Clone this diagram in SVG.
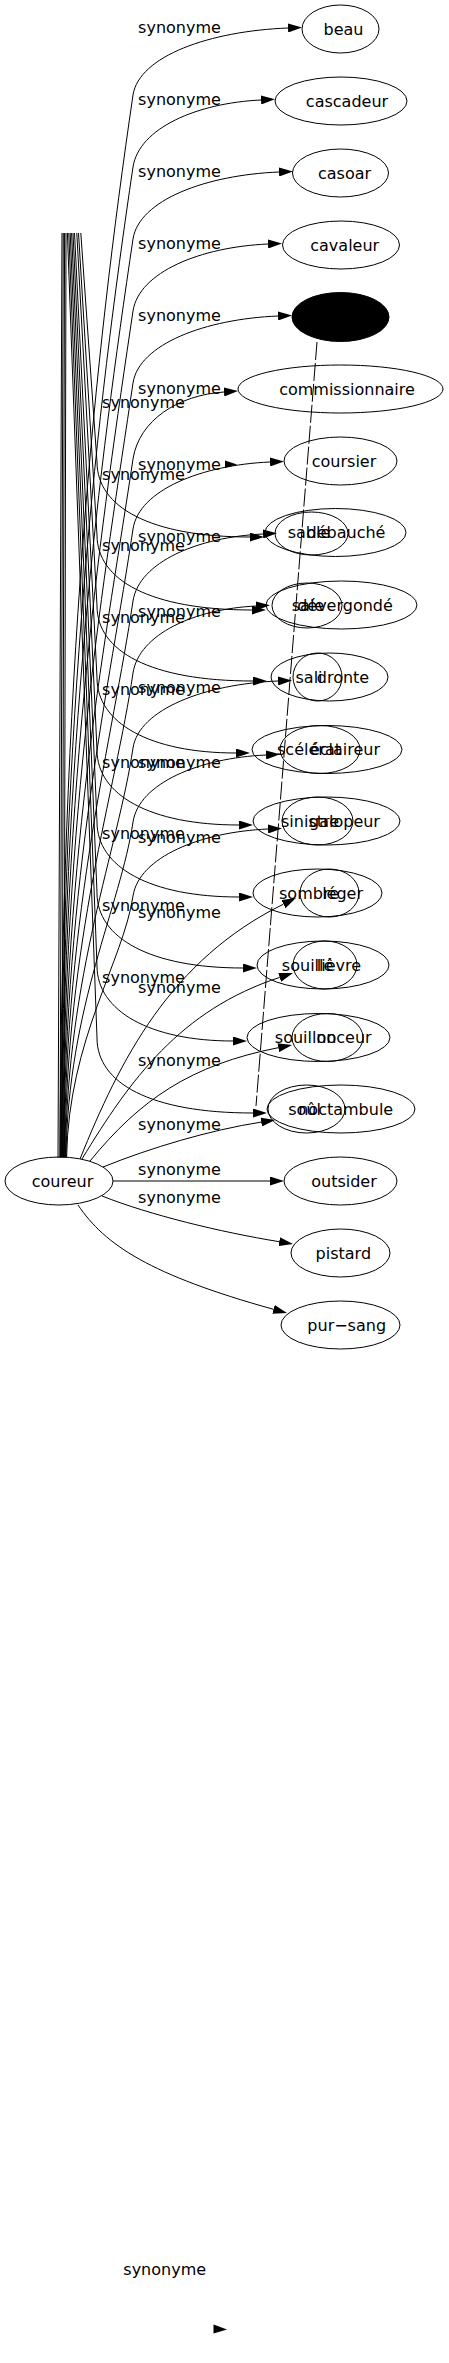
<svg xmlns="http://www.w3.org/2000/svg" width="449" height="2363" viewBox="0 0 449 2363">
<style>
text{font-family:"DejaVu Sans","Liberation Sans",sans-serif;font-size:16px;fill:#000;text-anchor:middle}
.node ellipse{fill:none;stroke:#000;stroke-width:1}
#edges path{fill:none;stroke:#000;stroke-width:1}
#edges path.a{marker-end:url(#ah)}
#edges path.d{stroke-dasharray:18,3}
</style>
<defs>
<marker id="ah" markerWidth="14" markerHeight="9" refX="0" refY="4.5" orient="auto" markerUnits="userSpaceOnUse" viewBox="0 0 14 9"><path d="M0,0 L14,4.5 L0,9 z" fill="#000"/></marker>
</defs>
<rect width="449" height="2363" fill="#fff"/>
<g id="edges">
<path d="M62,233 L58,1158"/>
<path d="M63.3,233 L60,1158"/>
<path d="M64.6,233 L62,1158"/>
<path d="M66,233 L64,1158"/>
<path class="a" d="M60,1157 C62,679 94,361 133,95 C139,56 210,31 288,28"/>
<text x="179.5" y="33">synonyme</text>
<path class="a" d="M60.6,1157 C62.6,711.5 96.4,414.5 133,167 C139,128 197,103 261,100"/>
<text x="179.5" y="105">synonyme</text>
<path class="a" d="M61.2,1157 C63.2,744 99,468.5 133,239 C139,200 206,175 279,172"/>
<text x="179.5" y="177">synonyme</text>
<path class="a" d="M61.8,1157 C63.8,776 101.7,522.5 133,311 C139,272 200.5,247 268,244"/>
<text x="179.5" y="249">synonyme</text>
<path class="a" d="M62.4,1157 C64.4,808.7 104.4,576.5 133,383 C139,344 205.5,319 278,316"/>
<text x="179.5" y="321">synonyme</text>
<path class="a" d="M63,1157 C65,843 107.2,633.5 133,459 C139,420 178.5,395 224,392"/>
<text x="179.5" y="393.5">synonyme</text>
<path class="a" d="M63.6,1157 C65.6,874.4 109.8,686 133,529 C139,490 201.5,465 270,462"/>
<text x="179.5" y="469.5">synonyme</text>
<path class="a" d="M64.2,1157 C66.2,906.8 112.4,740 133,601 C139,562 198,537 263,534"/>
<text x="179.5" y="541.5">synonyme</text>
<path class="a" d="M64.8,1157 C66.8,939.2 115.1,794 133,673 C139,634 194.5,609 256,606"/>
<text x="179.5" y="616.5">synonyme</text>
<path class="a" d="M65.4,1157 C67.4,973 117.9,850 133,748 C139,709 205.5,684 278,681"/>
<text x="179.5" y="692.5">synonyme</text>
<path class="a" d="M66,1157 C68,1006 120.6,906 133,822 C139,783 199.5,758 266,755"/>
<text x="179.5" y="767.5">synonyme</text>
<path class="a" d="M66.6,1157 C68.6,1039.5 123.3,961 133,896 C139,857 200.5,832 268,829"/>
<text x="179.5" y="843">synonyme</text>
<path class="a" d="M80,1159 C120,1060 170,960 283.4,904.2"/>
<text x="179.5" y="918">synonyme</text>
<path class="a" d="M82,1159 C130,1080 180,1010 279.7,977.4"/>
<text x="179.5" y="993">synonyme</text>
<path class="a" d="M90,1161 C140,1100 190,1065 278.3,1047.7"/>
<text x="179.5" y="1066">synonyme</text>
<path class="a" d="M103,1167 C150,1148 210,1130 261.2,1122.1"/>
<text x="179.5" y="1130">synonyme</text>
<path class="a" d="M113,1181 L270,1181"/>
<text x="179.5" y="1175">synonyme</text>
<path class="a" d="M102,1196 C150,1215 220,1232 279.2,1241.7"/>
<text x="179.5" y="1203">synonyme</text>
<path class="a" d="M78,1205 C105,1245 150,1275 273.5,1309.3"/>
<path class="a" d="M80.8,233 L97,462 C97,507 150,537 250,537"/>
<text x="143.5" y="407.5">synonyme</text>
<path class="a" d="M78.5,233 L97,535 C97,580 150,610 252,610"/>
<text x="143.5" y="480">synonyme</text>
<path class="a" d="M76.8,233 L97,606 C97,651 150,681 253,681"/>
<text x="143.5" y="550.5">synonyme</text>
<path class="a" d="M74.5,233 L97,678 C97,723 150,753 236,753"/>
<text x="143.5" y="623">synonyme</text>
<path class="a" d="M73,233 L97,750 C97,795 150,825 239,825"/>
<text x="143.5" y="695">synonyme</text>
<path class="a" d="M71.6,233 L97,822 C97,867 150,897 239,897"/>
<text x="143.5" y="767.5">synonyme</text>
<path class="a" d="M70.2,233 L97,893 C97,938 150,968 243,968"/>
<text x="143.5" y="839">synonyme</text>
<path class="a" d="M68.8,233 L97,966 C97,1011 150,1041 233,1041"/>
<text x="143.5" y="911">synonyme</text>
<path class="a" d="M67.4,233 L97,1038 C97,1083 150,1113 253,1113"/>
<text x="143.5" y="983">synonyme</text>
<path class="d" d="M317,342 L256,1106"/>
<polygon points="225,460.5 237,464.5 225,468" fill="#000"/>
<text x="164.7" y="2275">synonyme</text>
<polygon points="213.5,2324.5 227,2329.5 213.5,2333.5" fill="#000"/>
</g>
<g id="node-coureur" class="node"><ellipse cx="59" cy="1181" rx="54" ry="24"/><text x="62.5" y="1186.5">coureur</text></g>
<g id="node-beau" class="node"><ellipse cx="340.5" cy="29" rx="38.5" ry="24"/><text x="343.5" y="34.5">beau</text></g>
<g id="node-cascadeur" class="node"><ellipse cx="341" cy="101" rx="66" ry="24"/><text x="347" y="106.5">cascadeur</text></g>
<g id="node-casoar" class="node"><ellipse cx="340.5" cy="173" rx="48" ry="24"/><text x="344.5" y="178.5">casoar</text></g>
<g id="node-cavaleur" class="node"><ellipse cx="341" cy="245" rx="58.5" ry="24"/><text x="344.7" y="250.5">cavaleur</text></g>
<g id="node-hidden" class="node"><ellipse cx="340.5" cy="317" rx="48.5" ry="24.5" style="fill:#000"/></g>
<g id="node-commissionnaire" class="node"><ellipse cx="340.5" cy="389" rx="102.5" ry="24"/><text x="347" y="394.5">commissionnaire</text></g>
<g id="node-coursier" class="node"><ellipse cx="340.5" cy="461" rx="56.5" ry="24"/><text x="344" y="466.5">coursier</text></g>
<g id="node-debauche" class="node"><ellipse cx="335.5" cy="532.5" rx="70.5" ry="24"/><text x="346" y="538">débauché</text></g>
<g id="node-sable" class="node"><ellipse cx="311.5" cy="533.5" rx="36.5" ry="21.5"/><text x="309" y="538">sable</text></g>
<g id="node-devergonde" class="node"><ellipse cx="341.5" cy="605" rx="75.5" ry="24"/><text x="345" y="610.5">dévergondé</text></g>
<g id="node-sale" class="node"><ellipse cx="307" cy="605.5" rx="35" ry="22.5"/><text x="308" y="610.5">sale</text></g>
<g id="node-dronte" class="node"><ellipse cx="329.5" cy="677" rx="58.5" ry="24"/><text x="343" y="682.5">dronte</text></g>
<g id="node-sali" class="node"><ellipse cx="317.5" cy="677" rx="24.5" ry="24"/><text x="309" y="682.5">sali</text></g>
<g id="node-eclaireur" class="node"><ellipse cx="327" cy="749.5" rx="75" ry="24"/><text x="345" y="755">éclaireur</text></g>
<g id="node-scelerat" class="node"><ellipse cx="320" cy="749.5" rx="40" ry="24"/><text x="309" y="755">scélérat</text></g>
<g id="node-galopeur" class="node"><ellipse cx="326.5" cy="821" rx="73.5" ry="24"/><text x="344.5" y="826.5">galopeur</text></g>
<g id="node-sinistre" class="node"><ellipse cx="317.5" cy="821" rx="35.5" ry="24"/><text x="310" y="826.5">sinistre</text></g>
<g id="node-leger" class="node"><ellipse cx="329.5" cy="893" rx="29.5" ry="24"/><text x="342.6" y="898.5">léger</text></g>
<g id="node-sombre" class="node"><ellipse cx="317.5" cy="893" rx="64.5" ry="24"/><text x="309" y="898.5">sombre</text></g>
<g id="node-lievre" class="node"><ellipse cx="325" cy="965" rx="32" ry="24"/><text x="339" y="970.5">lièvre</text></g>
<g id="node-souille" class="node"><ellipse cx="323" cy="965" rx="66" ry="24"/><text x="307.6" y="970.5">souillé</text></g>
<g id="node-noceur" class="node"><ellipse cx="327.5" cy="1037.5" rx="35.5" ry="24"/><text x="344" y="1043">noceur</text></g>
<g id="node-souillon" class="node"><ellipse cx="318.5" cy="1037.5" rx="71.5" ry="24"/><text x="305.6" y="1043">souillon</text></g>
<g id="node-noctambule" class="node"><ellipse cx="341" cy="1109" rx="74" ry="24"/><text x="345.7" y="1114.5">noctambule</text></g>
<g id="node-soul" class="node"><ellipse cx="306.5" cy="1109" rx="38.5" ry="24"/><text x="304.6" y="1114.5">soûl</text></g>
<g id="node-outsider" class="node"><ellipse cx="340.5" cy="1181" rx="56.5" ry="24"/><text x="344" y="1186.5">outsider</text></g>
<g id="node-pistard" class="node"><ellipse cx="340.5" cy="1253" rx="49.5" ry="24"/><text x="343.3" y="1258.5">pistard</text></g>
<g id="node-pur-sang" class="node"><ellipse cx="340.5" cy="1325" rx="59.5" ry="24"/><text x="346.7" y="1330.5">pur−sang</text></g>
</svg>
